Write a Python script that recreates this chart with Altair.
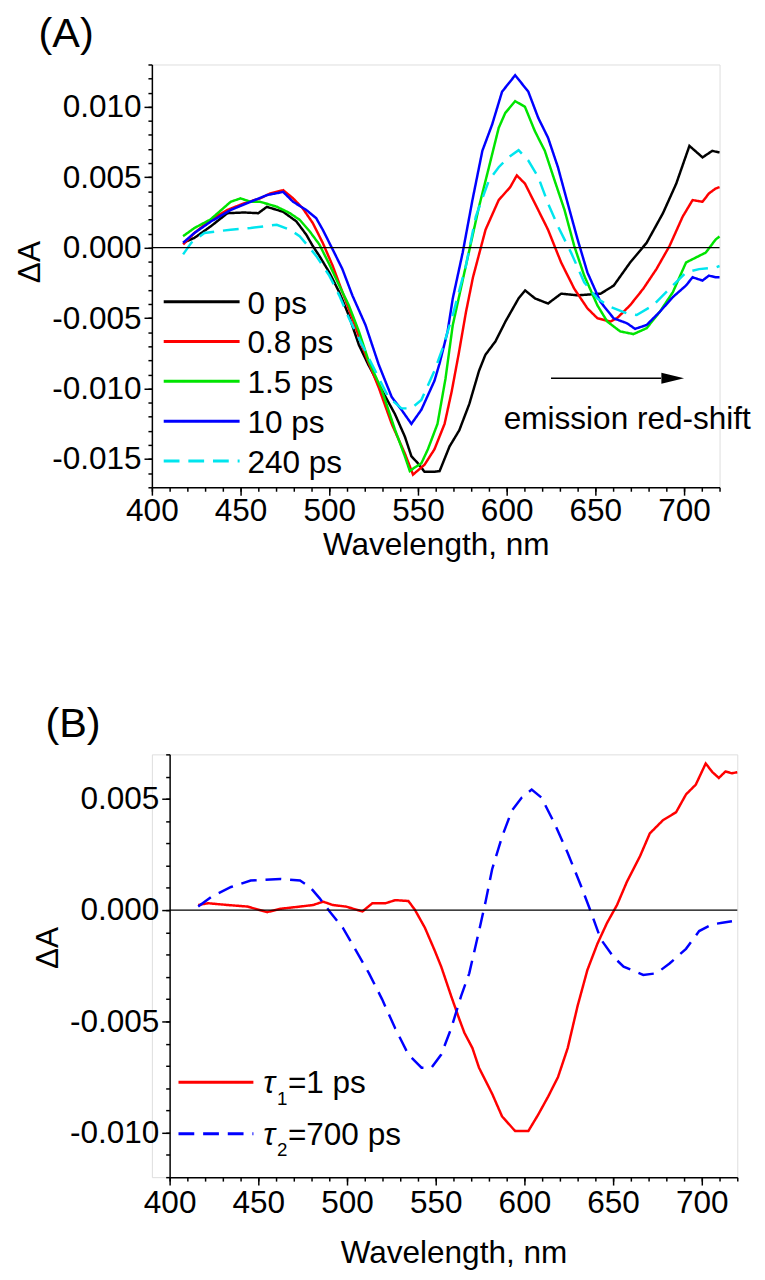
import altair as alt
import pandas as pd

FONT = "Liberation Sans"
FS = 32
MILLI = 0.001  # values below are read in units of 1e-3

# ---------------- Panel (A) ----------------
series_A = ["0 ps", "0.8 ps", "1.5 ps", "10 ps", "240 ps"]
colors_A = ["#000000", "#ff0000", "#00e400", "#0000ff", "#00e5ee"]

wl_0ps = [417.6, 424.0, 433.0, 442.6, 452.0, 460.0, 464.8, 470.0, 474.0, 481.5, 487.0, 490.7, 494.4,
          500.0, 505.6, 511.0, 516.7, 522.0, 529.6, 537.0, 542.6, 546.3, 550.0, 553.7, 559.0, 562.2,
          567.8, 573.3, 578.9, 584.4, 588.0, 593.7, 599.3, 606.7, 610.4, 616.0, 623.3, 630.7, 640.0,
          653.0, 660.4, 669.6, 678.9, 688.1, 695.6, 703.0, 706.0, 710.4, 715.9, 720.0]
dA_0ps = [0.35, 0.70, 1.50, 2.45, 2.50, 2.45, 2.90, 2.70, 2.55, 1.86, 0.93, 0.12, -0.58,
          -1.75, -3.15, -4.80, -6.90, -8.30, -10.10, -11.80, -13.40, -14.80, -15.30, -15.90, -15.90, -15.85,
          -14.10, -12.95, -11.10, -8.74, -7.60, -6.64, -5.24, -3.60, -3.03, -3.60, -3.96, -3.26, -3.38,
          -3.26, -2.68, -1.05, 0.35, 2.45, 4.55, 7.22, 6.90, 6.41, 6.87, 6.76]

wl_08ps = [417.6, 424.0, 433.3, 442.6, 451.9, 461.0, 466.7, 474.0, 479.6, 485.0, 490.7, 496.3, 501.9,
           507.4, 513.0, 520.4, 527.8, 535.2, 542.6, 547.2, 553.7, 559.3, 565.0, 569.0, 573.0, 577.0,
           581.0, 588.1, 595.5, 602.0, 605.7, 610.3, 615.9, 623.3, 630.7, 638.1, 645.5, 651.1, 658.5,
           662.2, 669.6, 677.0, 684.4, 691.8, 699.2, 704.8, 710.4, 714.0, 717.8, 720.0]
dA_08ps = [0.23, 1.05, 1.98, 2.68, 3.15, 3.50, 3.85, 4.08, 3.50, 2.80, 1.75, 0.35, -1.28,
           -3.15, -5.00, -7.60, -9.90, -12.50, -14.60, -16.10, -15.40, -14.30, -12.50, -10.20, -7.50, -4.60,
           -2.10, 1.28, 3.38, 4.30, 5.13, 4.55, 3.15, 1.28, -1.05, -2.91, -4.30, -5.00, -5.24,
           -5.00, -4.08, -2.91, -1.52, 0.12, 2.20, 3.38, 3.26, 3.85, 4.20, 4.30]

wl_15ps = [417.6, 424.0, 433.0, 444.4, 450.0, 455.6, 461.0, 470.4, 477.8, 483.3, 488.9, 494.4, 500.0,
           505.6, 511.0, 516.7, 522.2, 529.6, 537.0, 542.6, 545.4, 548.1, 551.9, 555.6, 561.0, 565.5,
           569.6, 577.0, 584.4, 590.0, 595.5, 599.2, 604.8, 610.3, 615.9, 621.5, 627.0, 632.6, 638.1,
           643.7, 651.1, 656.7, 664.0, 671.5, 678.9, 686.3, 693.7, 701.1, 708.5, 712.2, 717.8, 720.0]
dA_15ps = [0.82, 1.40, 2.00, 3.26, 3.50, 3.26, 3.26, 2.91, 2.45, 1.98, 1.17, 0.23, -1.17,
           -2.68, -4.08, -5.94, -8.04, -10.10, -12.90, -14.80, -15.85, -15.60, -15.30, -14.30, -12.50, -9.30,
           -5.50, -1.28, 2.91, 5.71, 8.50, 9.56, 10.40, 10.00, 8.27, 6.88, 4.78, 2.68, 0.12,
           -1.98, -4.08, -5.24, -5.94, -6.13, -5.71, -4.55, -3.15, -1.05, -0.58, -0.35, 0.58, 0.80]

wl_10ps = [417.6, 424.0, 433.3, 444.4, 455.6, 464.8, 474.0, 479.6, 487.0, 492.6, 496.3, 501.9, 507.4,
           513.0, 520.4, 527.8, 535.2, 540.7, 546.3, 551.9, 559.3, 562.2, 566.7, 569.6, 575.2, 580.7,
           586.3, 591.8, 597.4, 604.8, 612.2, 617.8, 623.3, 628.9, 634.4, 640.0, 645.5, 652.9, 660.3,
           667.8, 672.4, 678.9, 686.3, 693.7, 701.1, 704.8, 710.4, 714.0, 717.8, 720.0]
dA_10ps = [0.35, 1.05, 1.86, 2.68, 3.26, 3.73, 3.96, 3.26, 2.68, 2.10, 1.28, -0.12, -1.52,
           -3.38, -5.48, -8.27, -10.60, -11.50, -12.50, -11.50, -9.44, -8.20, -5.94, -3.61, -0.35, 3.38,
           6.88, 8.74, 11.07, 12.24, 11.07, 9.21, 7.81, 5.71, 3.15, 0.58, -1.75, -3.85, -5.01,
           -5.36, -5.76, -5.48, -4.55, -3.50, -2.68, -2.10, -2.33, -1.98, -2.10, -2.10]

wl_240ps = [417.6, 422.2, 429.6, 444.4, 455.6, 470.4, 477.8, 483.3, 488.9, 492.6, 500.0, 505.6, 511.1,
            518.5, 525.9, 533.3, 540.7, 546.3, 551.9, 559.3, 564.0, 569.6, 577.0, 582.6, 590.0, 595.5,
            601.1, 606.7, 612.2, 617.8, 623.3, 628.9, 636.3, 643.7, 651.1, 658.5, 667.8, 673.3, 682.6,
            691.8, 701.1, 708.5, 717.8, 720.0]
dA_240ps = [-0.47, 0.35, 1.05, 1.28, 1.40, 1.63, 1.28, 0.82, 0.00, -0.58, -1.98, -3.38, -5.01,
            -6.88, -8.74, -10.60, -11.40, -11.40, -10.80, -8.74, -7.10, -4.78, -1.28, 2.21, 4.78, 5.71,
            6.41, 6.92, 6.18, 5.01, 3.15, 1.52, -0.35, -2.45, -3.61, -4.20, -4.66, -4.78, -4.08,
            -2.91, -1.75, -1.52, -1.40, -1.30]

# ---------------- Panel (B) ----------------
series_B = ["tau1", "tau2"]
colors_B = ["#ff0000", "#0000ff"]

wl_tau1 = [416.1, 421.7, 432.8, 443.9, 455.0, 462.4, 473.5, 480.9, 486.5, 492.0, 499.4, 508.7, 514.3,
           521.7, 527.2, 534.6, 538.3, 543.9, 549.4, 553.1, 558.7, 563.3, 566.1, 570.7, 574.4, 581.8,
           587.4, 594.8, 602.2, 607.7, 613.3, 618.9, 624.4, 630.0, 635.5, 641.1, 646.6, 652.2, 657.7,
           665.2, 670.7, 678.1, 685.5, 691.1, 696.6, 702.2, 706.0, 709.6, 713.3, 717.0, 720.0]
dA_tau1 = [0.23, 0.31, 0.23, 0.16, -0.09, 0.06, 0.16, 0.23, 0.38, 0.23, 0.16, -0.06, 0.31,
           0.31, 0.45, 0.41, 0.01, -0.79, -1.81, -2.54, -3.86, -4.90, -5.50, -6.20, -7.08, -8.25,
           -9.27, -9.93, -9.93, -9.20, -8.39, -7.51, -6.20, -4.30, -2.69, -1.52, -0.57, 0.23, 1.26,
           2.43, 3.45, 4.04, 4.40, 5.20, 5.64, 6.59, 6.20, 5.94, 6.23, 6.15, 6.20]

wl_tau2 = [416.1, 423.5, 434.6, 445.7, 462.4, 473.5, 479.1, 484.6, 490.2, 497.6, 505.0, 512.4, 519.8,
           527.2, 534.6, 542.0, 547.6, 553.1, 558.7, 564.3, 568.9, 574.4, 578.1, 581.8, 587.4, 592.9,
           598.5, 604.1, 609.6, 617.0, 624.4, 631.8, 637.4, 643.0, 650.3, 655.9, 667.0, 674.4, 681.8,
           691.1, 698.5, 705.9, 711.5, 717.0]
dA_tau2 = [0.16, 0.60, 1.04, 1.33, 1.40, 1.33, 1.04, 0.53, -0.06, -0.79, -1.81, -2.84, -4.01,
           -5.32, -6.49, -7.08, -7.08, -6.49, -5.32, -3.86, -2.84, -0.94, 0.38, 1.84, 3.30, 4.47,
           5.06, 5.42, 5.06, 3.89, 2.57, 1.11, -0.06, -1.30, -2.11, -2.54, -2.91, -2.84, -2.40,
           -1.74, -0.94, -0.64, -0.57, -0.50]

x_major_ticks = [400, 450, 500, 550, 600, 650, 700]
x_minor_ticks = list(range(400, 721, 10))
yA_major_ticks = [-0.015, -0.010, -0.005, 0.0, 0.005, 0.010]
yA_minor_ticks = [round(-0.017 + 0.001 * i, 3) for i in range(31)]
yB_major_ticks = [-0.010, -0.005, 0.0, 0.005]
yB_minor_ticks = [round(-0.012 + 0.001 * i, 3) for i in range(20)]


def build_df(names, wls, vals):
    rows = []
    for n, w, v in zip(names, wls, vals):
        for x, y in zip(w, v):
            rows.append({"series": n, "wl": x, "dA": y * MILLI})
    return pd.DataFrame(rows)


dfA = build_df(series_A, [wl_0ps, wl_08ps, wl_15ps, wl_10ps, wl_240ps],
               [dA_0ps, dA_08ps, dA_15ps, dA_10ps, dA_240ps])
dfB = build_df(series_B, [wl_tau1, wl_tau2], [dA_tau1, dA_tau2])
one = pd.DataFrame({"k": [0]})

Y_LABEL = "(datum.value < -0.0000001 ? '-' : '') + format(abs(datum.value), '.3f')"


def axis(**kw):
    base = dict(grid=False, domainColor="black", domainWidth=1.5, tickColor="black", tickWidth=1.5,
                labelFont=FONT, labelFontSize=FS, labelColor="black", titleFont=FONT,
                titleFontSize=FS, titleFontWeight="normal", titleColor="black")
    base.update(kw)
    return alt.Axis(**base)


def major_x(label_pad, title_pad):
    return axis(orient="bottom", values=x_major_ticks, tickSize=8, labelPadding=label_pad,
                labelFlush=False, labelOverlap=False, title="Wavelength, nm", titlePadding=title_pad)


def minor_x():
    return axis(orient="bottom", values=x_minor_ticks, tickSize=4, labels=False, domain=False, title=None)


def major_y(vals, offset, title_y):
    return axis(orient="left", values=vals, tickSize=8, labelPadding=3, labelExpr=Y_LABEL,
                labelOverlap=False, title="ΔA", titlePadding=5, titleY=title_y, offset=offset)


def minor_y(vals, offset):
    return axis(orient="left", values=vals, tickSize=4, labels=False, domain=False, title=None,
                offset=offset)


def panel(df, names, colors, dashes, xscale, yscale, yvals, yminor, offset, title_y, label_pad, title_pad):
    lines = alt.Chart(df).mark_line(strokeWidth=2.5).encode(
        x=alt.X("wl:Q", scale=xscale, axis=major_x(label_pad, title_pad)),
        y=alt.Y("dA:Q", scale=yscale, axis=major_y(yvals, offset, title_y)),
        color=alt.Color("series:N", scale=alt.Scale(domain=names, range=colors), legend=None),
        strokeDash=alt.StrokeDash("series:N", scale=alt.Scale(domain=names, range=dashes), legend=None),
    )
    zero = alt.Chart(one).mark_rule(color="black", strokeWidth=1.2).encode(
        x=alt.XDatum(400, scale=xscale, axis=minor_x()),
        x2=alt.X2Datum(720),
        y=alt.YDatum(0, scale=yscale, axis=minor_y(yminor, offset)),
    )
    return [lines, zero]


# ----- Panel A -----
xscaleA = alt.Scale(domain=[400, 720], nice=False, zero=False)
yscaleA = alt.Scale(domain=[-0.017, 0.013], nice=False, zero=False)
dashA = [[1, 0], [1, 0], [1, 0], [1, 0], [16, 9]]

layersA = panel(dfA, series_A, colors_A, dashA, xscaleA, yscaleA, yA_major_ticks, yA_minor_ticks,
                0, 200, 1, 3)

for i, (name, col, dash) in enumerate(zip(series_A, colors_A, dashA)):
    ypos = 240.7 + 40.4 * i
    leg = pd.DataFrame({"label": [name]})
    layersA.append(alt.Chart(leg).mark_rule(stroke=col, strokeWidth=3, strokeDash=dash).encode(
        x=alt.value(12), x2=alt.value(89), y=alt.value(ypos)))
    layersA.append(alt.Chart(leg).mark_text(align="left", baseline="middle", font=FONT, fontSize=FS,
                                            color="black", dy=2).encode(
        x=alt.value(97), y=alt.value(ypos), text="label:N"))

# arrow + annotation
layersA.append(alt.Chart(one).mark_rule(color="black", strokeWidth=1.5).encode(
    x=alt.XDatum(625, scale=xscaleA, axis=None), x2=alt.X2Datum(687),
    y=alt.YDatum(-0.00926, scale=yscaleA, axis=None)))
layersA.append(alt.Chart(one).mark_point(shape="M -1 -0.48 L 1 0 L -1 0.48 Z", filled=True,
                                         color="black", opacity=1, size=529).encode(
    x=alt.XDatum(693.6, scale=xscaleA, axis=None),
    y=alt.YDatum(-0.00926, scale=yscaleA, axis=None)))
layersA.append(alt.Chart(one).mark_text(text="emission red-shift", align="center", baseline="alphabetic",
                                        font=FONT, fontSize=FS, color="black").encode(
    x=alt.XDatum(668, scale=xscaleA, axis=None),
    y=alt.YDatum(-0.01284, scale=yscaleA, axis=None)))

chartA = alt.layer(*layersA).resolve_axis(x="independent", y="independent").properties(
    width=576, height=429,
    title=alt.TitleParams("(A)", anchor="start", frame="group", font=FONT, fontSize=42,
                          fontWeight="normal", color="black", dx=-115, offset=8))

# ----- Panel B -----
xscaleB = alt.Scale(domain=[400, 720], range=[18, 594], nice=False, zero=False)
yscaleB = alt.Scale(domain=[-0.012, 0.007], nice=False, zero=False)
dashB = [[1, 0], [16, 9]]

layersB = panel(dfB, series_B, colors_B, dashB, xscaleB, yscaleB, yB_major_ticks, yB_minor_ticks,
                -18, 196, 3, 20)

legB_sub = ["1", "2"]
legB_rest = ["=1 ps", "=700 ps"]
for i, (col, dash) in enumerate(zip(colors_B, dashB)):
    ypos = 332.7 + 52.3 * i
    base_line = ypos + 11
    layersB.append(alt.Chart(one).mark_rule(stroke=col, strokeWidth=3, strokeDash=dash).encode(
        x=alt.value(27), x2=alt.value(103), y=alt.value(ypos)))
    layersB.append(alt.Chart(one).mark_text(text="τ", fontStyle="italic", align="left",
                                            baseline="alphabetic", font=FONT, fontSize=FS,
                                            color="black").encode(
        x=alt.value(113), y=alt.value(base_line)))
    layersB.append(alt.Chart(one).mark_text(text=legB_sub[i], align="left", baseline="alphabetic",
                                            font=FONT, fontSize=19, color="black").encode(
        x=alt.value(127), y=alt.value(base_line + 12)))
    layersB.append(alt.Chart(one).mark_text(text=legB_rest[i], align="left", baseline="alphabetic",
                                            font=FONT, fontSize=FS, color="black").encode(
        x=alt.value(138), y=alt.value(base_line)))

chartB = alt.layer(*layersB).resolve_axis(x="independent", y="independent").properties(
    width=594, height=429,
    title=alt.TitleParams("(B)", anchor="start", frame="group", font=FONT, fontSize=42,
                          fontWeight="normal", color="black", dx=-108, offset=8))

chart = alt.vconcat(chartA, chartB, spacing=143).resolve_scale(
    color="independent", strokeDash="independent"
).properties(
    padding={"left": 5, "top": -5, "right": 5, "bottom": 0}
).configure_view(stroke=None).configure(font=FONT, background="white")

chart.save("out.html", embed_options={"renderer": "svg", "actions": False})
